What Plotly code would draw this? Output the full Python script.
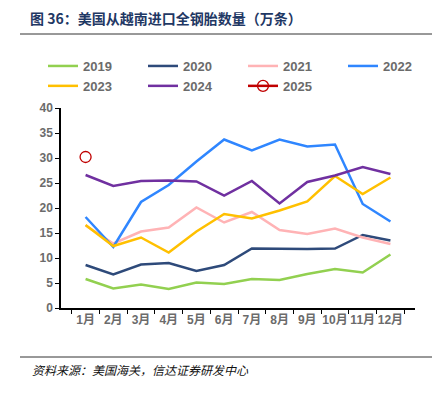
import plotly.graph_objects as go

months = ["1月", "2月", "3月", "4月", "5月", "6月", "7月", "8月", "9月", "10月", "11月", "12月"]
y2019 = [5.8, 3.9, 4.7, 3.8, 5.1, 4.8, 5.8, 5.6, 6.8, 7.8, 7.1, 10.7]
y2020 = [8.6, 6.7, 8.7, 9.0, 7.4, 8.6, 11.9, 11.8, 11.8, 11.9, 14.6, 13.5]
y2021 = [16.5, 12.9, 15.3, 16.1, 20.1, 17.1, 19.2, 15.6, 14.8, 15.9, 14.1, 12.8]
y2022 = [18.2, 12.2, 21.2, 24.6, 29.3, 33.7, 31.5, 33.7, 32.3, 32.7, 20.8, 17.3]
y2023 = [16.6, 12.4, 14.1, 11.1, 15.3, 18.8, 17.9, 19.5, 21.3, 26.4, 22.8, 26.1]
y2024 = [26.6, 24.4, 25.4, 25.5, 25.3, 22.5, 25.4, 20.9, 25.2, 26.5, 28.2, 26.8]
y2025 = [30.2, None, None, None, None, None, None, None, None, None, None, None]

series = [
    ("2019", y2019, "#92D050"),
    ("2020", y2020, "#2E4A7A"),
    ("2021", y2021, "#FFB3B5"),
    ("2022", y2022, "#2F86FF"),
    ("2023", y2023, "#FFC000"),
    ("2024", y2024, "#7030A0"),
]

fig = go.Figure()
for name, vals, color in series:
    fig.add_trace(go.Scatter(x=months, y=vals, name=name, mode="lines",
                             line=dict(color=color, width=2.5)))
fig.add_trace(go.Scatter(x=months, y=y2025, name="2025", mode="lines+markers",
                         line=dict(color="#C00000", width=2.5),
                         marker=dict(symbol="circle-open", size=11, color="#C00000",
                                     line=dict(width=1.3, color="#C00000"))))

tickfont = dict(family="Liberation Sans, Noto Sans CJK SC, sans-serif", size=12,
                color="#6b6b6b", weight="bold")

fig.update_layout(
    width=440, height=394,
    margin=dict(l=61, r=25, t=108, b=86, autoexpand=False),
    paper_bgcolor="white", plot_bgcolor="white",
    showlegend=True,
    legend=dict(orientation="h", xref="paper", yref="paper",
                x=(43-61)/354, y=(308-51)/200, xanchor="left", yanchor="top",
                entrywidth=55, entrywidthmode="pixels",
                font=dict(family="Liberation Sans, sans-serif", size=13,
                          color="#6b6b6b", weight="bold"),
                itemwidth=30, tracegroupgap=0, bgcolor="rgba(0,0,0,0)"),
    xaxis=dict(type="category", showline=True, linecolor="black", linewidth=1.5,
               ticks="outside", tickson="boundaries", ticklen=4, tickcolor="black",
               tickangle=0, automargin=False,
               tickfont=tickfont, showgrid=False, zeroline=False),
    yaxis=dict(range=[0, 40], dtick=5, showline=True, linecolor="black", linewidth=1.5,
               ticks="outside", ticklen=4, tickcolor="black", automargin=False,
               tickfont=tickfont, showgrid=False, zeroline=False),
)

fig.add_shape(type="line", xref="paper", yref="paper",
              x0=-41/354, x1=371/354, y0=(308-34)/200, y1=(308-34)/200,
              line=dict(color="#333333", width=1))
fig.add_shape(type="line", xref="paper", yref="paper",
              x0=-41/354, x1=371/354, y0=(308-357)/200, y1=(308-357)/200,
              line=dict(color="#333333", width=1))

fig.add_annotation(text="图 36：美国从越南进口全钢胎数量（万条）", xref="paper", yref="paper",
                   x=-33/354, y=(308-18)/200, xanchor="left", yanchor="middle",
                   showarrow=False,
                   font=dict(family="Noto Sans CJK SC, sans-serif", size=14,
                             color="#1F3864", weight="bold"))
fig.add_annotation(text="资料来源：美国海关，信达证券研发中心", xref="paper", yref="paper",
                   x=-31/354, y=(308-369)/200, xanchor="left", yanchor="middle",
                   showarrow=False,
                   font=dict(family="Noto Sans CJK SC, sans-serif", size=12, color="#111111",
                             style="italic", weight="normal"))

fig.write_html("out.html", config={"displayModeBar": False},
               post_script="document.body.style.margin='0';")
